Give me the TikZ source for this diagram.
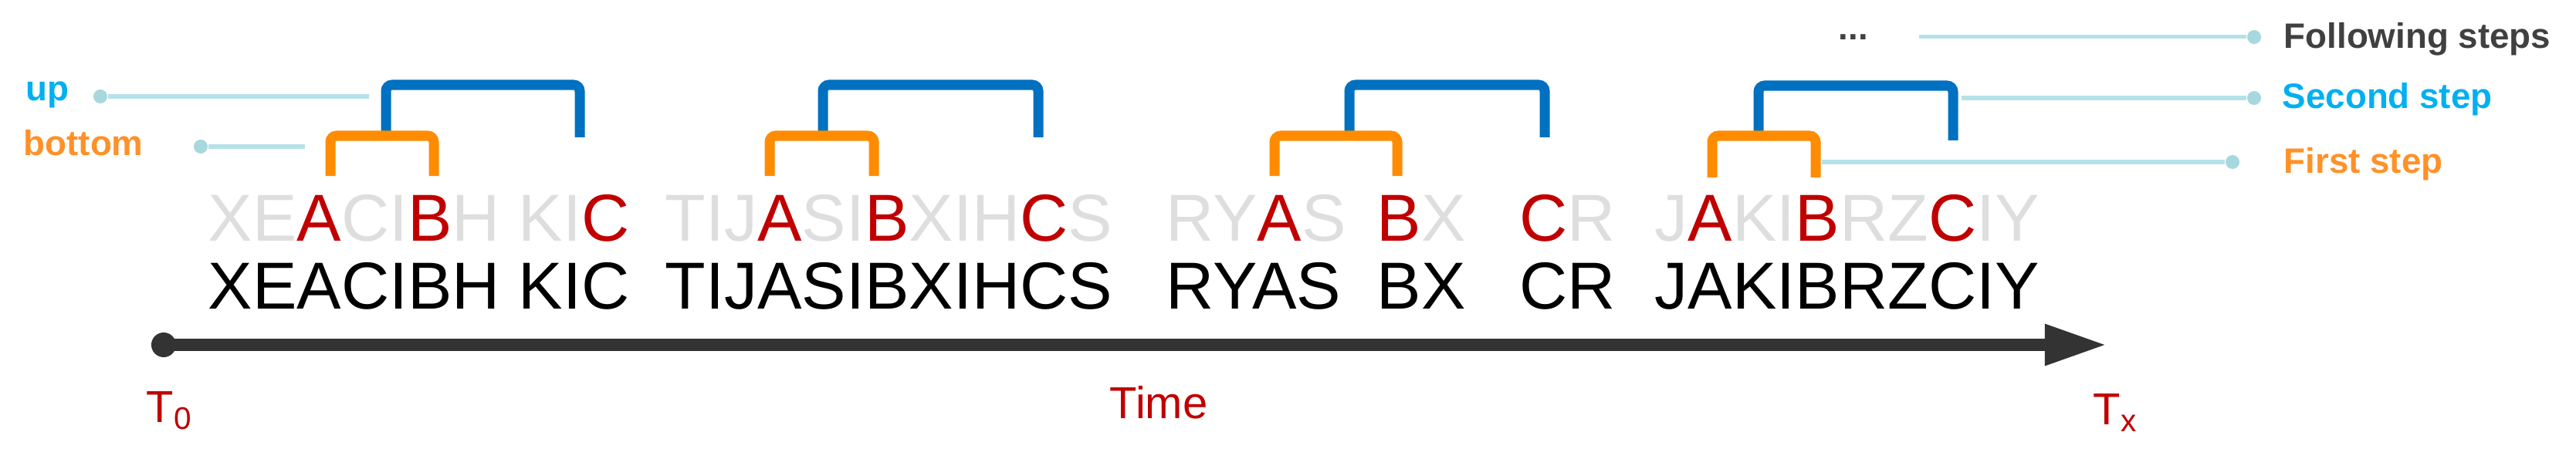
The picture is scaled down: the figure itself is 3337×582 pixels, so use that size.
\documentclass[tikz,border=0pt]{standalone}
\usepackage{fontspec}
\setmainfont{Liberation Sans}
\usepackage{xcolor}
\definecolor{upblue}{RGB}{0,112,192}
\definecolor{upcyan}{RGB}{0,176,240}
\definecolor{botorange}{RGB}{255,140,0}
\definecolor{lborange}{RGB}{255,145,40}
\definecolor{pinline}{RGB}{180,226,232}
\definecolor{pindot}{RGB}{166,216,222}
\definecolor{hitred}{RGB}{192,0,0}
\definecolor{fadegrey}{RGB}{222,222,222}
\definecolor{axisgrey}{RGB}{51,51,51}
\definecolor{labelgrey}{RGB}{64,64,64}
\usetikzlibrary{arrows.meta}
\tikzset{
  seq_font/.style={font=\fontsize{24.5}{29}\selectfont,inner sep=0pt,anchor=base west},
  seq_grey/.style={seq_font,text=fadegrey},
  seq_black/.style={seq_font,text=black},
  lbl/.style={font=\fontsize{13}{16}\selectfont\bfseries,inner sep=0pt,anchor=base west},
  time_lbl/.style={font=\fontsize{16.5}{20}\selectfont,text=hitred,inner sep=0pt,anchor=base west},
  br_up/.style={draw=upblue,line width=0.13cm,rounded corners=0.08cm},
  br_bot/.style={draw=botorange,line width=0.13cm,rounded corners=0.08cm},
  pin_dot/.style={circle,fill=pindot,inner sep=0pt,minimum size=0.18cm},
  pin_line/.style={draw=pinline,line width=0.05cm},
  axis/.style={draw=axisgrey,line width=0.15cm,-{Triangle[length=0.8cm,width=0.5cm]}},
}
\newcommand{\keyl}[1]{\textcolor{hitred}{#1}}

\begin{document}
\begin{tikzpicture}[x=0.01cm,y=-0.01cm]
  \useasboundingbox (0,0) rectangle (3337,582);
  % faded sequence with the matched letters
  \node (grey1)[seq_grey] at (269,312) {XE\keyl{A}CI\keyl{B}H KI\keyl{C}};
  \node (grey2)[seq_grey] at (861,312) {TIJ\keyl{A}SI\keyl{B}XIH\keyl{C}S};
  \node (grey3)[seq_grey] at (1510,312) {RY\keyl{A}S};
  \node (grey4)[seq_grey] at (1783,312) {\keyl{B}X};
  \node (grey5)[seq_grey] at (1968,312) {\keyl{C}R};
  \node (grey6)[seq_grey] at (2143,312) {J\keyl{A}KI\keyl{B}RZ\keyl{C}IY};
  % plain sequence
  \node (blk1)[seq_black] at (269,400) {XEACIBH KIC};
  \node (blk2)[seq_black] at (861,400) {TIJASIBXIHCS};
  \node (blk3)[seq_black] at (1510,400) {RYAS};
  \node (blk4)[seq_black] at (1783,400) {BX};
  \node (blk5)[seq_black] at (1968,400) {CR};
  \node (blk6)[seq_black] at (2143,400) {JAKIBRZCIY};
  % brackets
  \draw[br_up] (500,176) -- (500,110) -- (751,110) -- (751,178);
  \draw[br_bot] (428,228) -- (428,176) -- (562,176) -- (562,228);
  \draw[br_up] (1066,176) -- (1066,110) -- (1345,110) -- (1345,178);
  \draw[br_bot] (997,228) -- (997,176) -- (1132,176) -- (1132,228);
  \draw[br_up] (1748,176) -- (1748,110) -- (2001,110) -- (2001,178);
  \draw[br_bot] (1651,228) -- (1651,176) -- (1810,176) -- (1810,228);
  \draw[br_up] (2278,176) -- (2278,111) -- (2530,111) -- (2530,182);
  \draw[br_bot] (2218,230) -- (2218,176) -- (2352,176) -- (2352,230);
  % left labels
  \node (lup)[lbl,text=upcyan] at (33,130) {up};
  \node (lbot)[lbl,text=lborange] at (30,202) {bottom};
  \node (dup)[pin_dot] at (130,125) {};
  \node (dbot)[pin_dot] at (260,190) {};
  \coordinate (eup) at (478,125);
  \coordinate (ebot) at (395,190);
  \draw[pin_line] (dup) -- (eup);
  \draw[pin_line] (dbot) -- (ebot);
  % right labels
  \node (more)[lbl,text=labelgrey] at (2381,52) {...};
  \node (lfol)[lbl,text=labelgrey] at (2958,63) {Following steps};
  \node (lsec)[lbl,text=upcyan] at (2956,140) {Second step};
  \node (lfst)[lbl,text=lborange] at (2958,225) {First step};
  \node (dfol)[pin_dot] at (2920,48) {};
  \node (dsec)[pin_dot] at (2920,127) {};
  \node (dfst)[pin_dot] at (2892,210) {};
  \coordinate (efol) at (2486,48);
  \coordinate (esec) at (2541,127);
  \coordinate (efst) at (2360,210);
  \draw[pin_line] (efol) -- (dfol);
  \draw[pin_line] (esec) -- (dsec);
  \draw[pin_line] (efst) -- (dfst);
  % time axis
  \node (t0dot)[circle,fill=axisgrey,inner sep=0pt,minimum size=0.32cm] at (212,447) {};
  \coordinate (tend) at (2729,447);
  \draw[axis] (t0dot.center) -- (tend);
  \node (t0)[time_lbl] at (189,547) {T\textsubscript{0}};
  \node (time)[time_lbl] at (1437,542) {Time};
  \node (tx)[time_lbl] at (2711,550) {T\textsubscript{x}};
\end{tikzpicture}
\end{document}
